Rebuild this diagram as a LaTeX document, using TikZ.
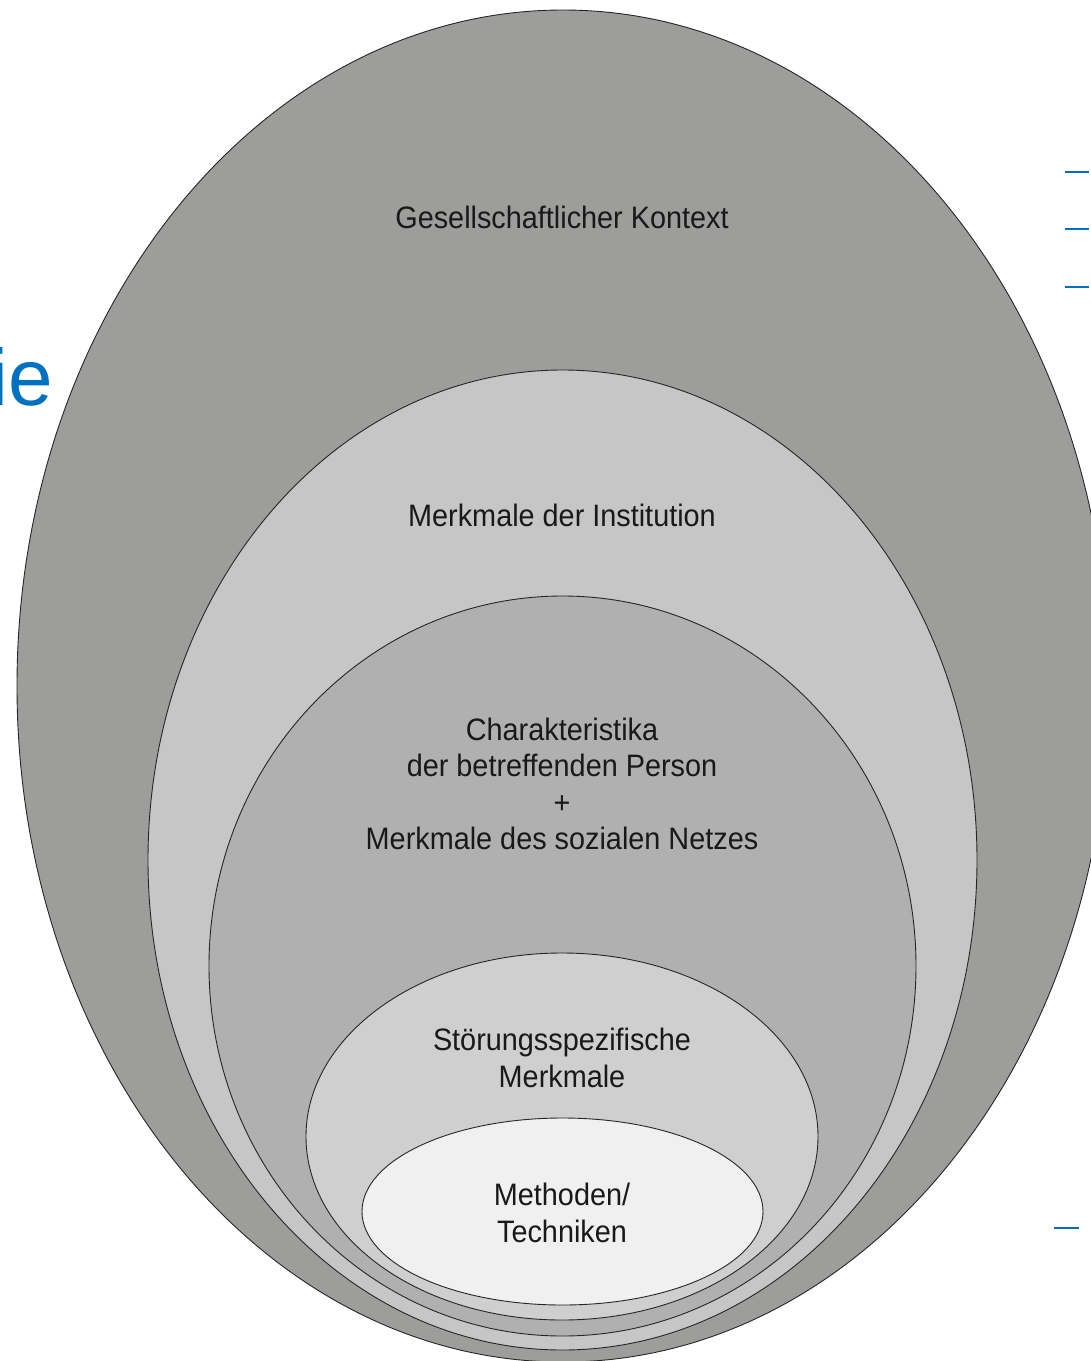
\documentclass[tikz,border=0pt]{standalone}
\usepackage{fontspec}
\setmainfont{Liberation Sans}
\newfontfamily\lblfont[FakeStretch=0.93]{Liberation Sans}
\definecolor{ringA}{HTML}{9D9D9B}
\definecolor{ringB}{HTML}{C6C6C6}
\definecolor{ringC}{HTML}{B0B0B0}
\definecolor{ringD}{HTML}{CFCFCF}
\definecolor{ringE}{HTML}{F0F0F0}
\definecolor{slideblue}{HTML}{0070C0}
\tikzset{
  ring/.style={draw=black!85, line width=0.9pt},
  lbl/.style={font=\lblfont\fontsize{31}{36.3}\selectfont, align=center, inner sep=0pt, text=black!90},
  bluedash/.style={draw=slideblue, line width=2.6pt}
}
\begin{document}
\begin{tikzpicture}[x=1pt,y=-1pt]
\useasboundingbox (0,0) rectangle (1091,1361);
% nested ellipses
\filldraw[ring, fill=ringA] (563,686) ellipse [x radius=546pt, y radius=676pt];
\filldraw[ring, fill=ringB] (562.5,860) ellipse [x radius=414.5pt, y radius=490pt];
\filldraw[ring, fill=ringC] (562.5,966) ellipse [x radius=353.5pt, y radius=370pt];
\filldraw[ring, fill=ringD] (562,1136.5) ellipse [x radius=256pt, y radius=183.5pt];
\filldraw[ring, fill=ringE] (562.5,1211.5) ellipse [x radius=200.5pt, y radius=93.5pt];
% labels
\node[lbl] (t1) at (562,217) {Gesellschaftlicher Kontext};
\node[lbl] (t2) at (562,515) {Merkmale der Institution};
\node[lbl] (t3) at (562,784) {Charakteristika\\der betreffenden Person\\+\\Merkmale des sozialen Netzes};
\node[lbl] (t4) at (562,1058) {Störungsspezifische\\Merkmale};
\node[lbl] (t5) at (562,1213) {Methoden/\\Techniken};
% fragments of the slide behind
\node[font=\fontsize{80}{90}\selectfont, text=slideblue, inner sep=0pt, anchor=base east] (ie) at (53,405) {ie};
\coordinate (d1a) at (1065,172); \coordinate (d1b) at (1089,172);
\coordinate (d2a) at (1065,229); \coordinate (d2b) at (1089,229);
\coordinate (d3a) at (1065,287); \coordinate (d3b) at (1089,287);
\coordinate (d4a) at (1054,1228); \coordinate (d4b) at (1079,1228);
\draw[bluedash] (d1a) -- (d1b);
\draw[bluedash] (d2a) -- (d2b);
\draw[bluedash] (d3a) -- (d3b);
\draw[bluedash] (d4a) -- (d4b);
\end{tikzpicture}
\end{document}
